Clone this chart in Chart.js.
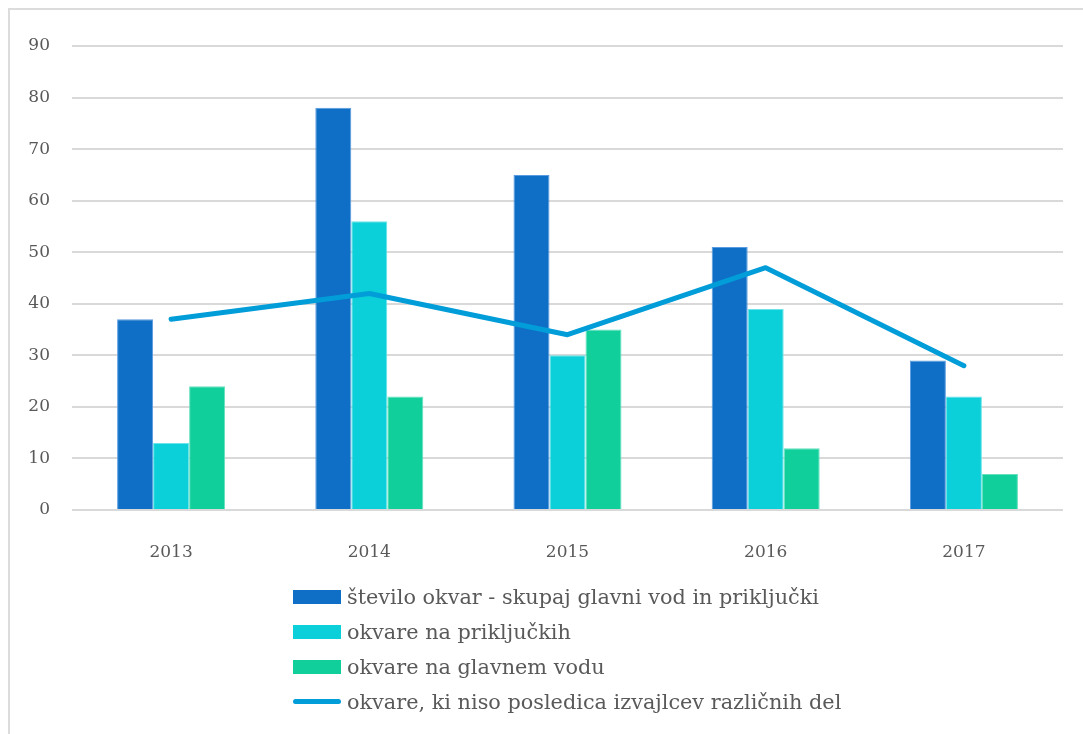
<!DOCTYPE html>
<html>
<head>
<meta charset="utf-8">
<script src="https://cdn.jsdelivr.net/npm/chart.js@4/dist/chart.umd.min.js"></script>
<style>
  html, body { margin: 0; padding: 0; background: #fff; }
  #wrap { position: relative; width: 1083px; height: 734px; overflow: hidden; }
  #frame { position: absolute; left: 8px; top: 8px; right: -10px; bottom: -10px; border-left: 2px solid #dcdcdc; border-top: 2px solid #dcdcdc; }
  #chart { position: absolute; left: 0; top: 0; }
  #legend { position: absolute; left: 293px; top: 579px; font-family: "DejaVu Serif", serif; font-size: 20.8px; color: #595959; }
  .item { height: 35px; display: flex; align-items: center; white-space: nowrap; }
  .sw { width: 48px; height: 14px; margin-right: 6px; }
  .ln { width: 48px; height: 5px; border-radius: 3px; margin-right: 6px; }
</style>
</head>
<body>
<div id="wrap">
  <div id="frame"></div>
  <canvas id="chart" width="1083" height="734"></canvas>
  <div id="legend"></div>
</div>
<script>
// podatki
var years = ['2013', '2014', '2015', '2016', '2017'];
var skupaj = [37, 78, 65, 51, 29];
var prikljucki = [13, 56, 30, 39, 22];
var glavniVod = [24, 22, 35, 12, 7];
var nisoIzvajalci = [37, 42, 34, 47, 28];
var yTicks = [0, 10, 20, 30, 40, 50, 60, 70, 80, 90];

var labelFont = { family: 'DejaVu Serif', size: 17 };

var ctx = document.getElementById('chart').getContext('2d');
var chart = new Chart(ctx, {
    type: 'bar',
    data: {
        labels: years,
        datasets: [{
            label: 'število okvar - skupaj glavni vod in priključki',
            data: skupaj,
            backgroundColor: '#0F6FC6',
            borderColor: '#5A9BE0',
            borderWidth: 1,
            order: 1
        }, {
            label: 'okvare na priključkih',
            data: prikljucki,
            backgroundColor: '#0BD0D9',
            borderColor: '#6BE3E8',
            borderWidth: 1,
            order: 1
        }, {
            label: 'okvare na glavnem vodu',
            data: glavniVod,
            backgroundColor: '#10CF9B',
            borderColor: '#66E0BE',
            borderWidth: 1,
            order: 1
        }, {
            type: 'line',
            label: 'okvare, ki niso posledica izvajlcev različnih del',
            data: nisoIzvajalci,
            borderColor: '#009DD9',
            borderWidth: 5,
            borderCapStyle: 'round',
            borderJoinStyle: 'round',
            pointRadius: 0,
            tension: 0,
            fill: false,
            order: 0
        }]
    },
    options: {
        responsive: false,
        animation: false,
        layout: { padding: { left: 0, right: 20, top: 46, bottom: 0 } },
        datasets: {
            bar: { categoryPercentage: 0.545, barPercentage: 1 }
        },
        scales: {
            x: {
                grid: { display: false },
                border: { display: false },
                ticks: { color: '#595959', font: labelFont, padding: 24 },
                afterFit: function(s) { s.height = 224; }
            },
            y: {
                min: 0,
                max: 90,
                afterBuildTicks: function(s) { s.ticks = yTicks.map(function(v) { return { value: v }; }); },
                grid: { color: '#d9d9d9', lineWidth: 2, drawTicks: false },
                border: { display: false },
                ticks: { color: '#595959', font: labelFont, padding: 22 },
                afterFit: function(s) { s.width = 72; }
            }
        },
        plugins: {
            legend: { display: false },
            tooltip: { enabled: false }
        }
    }
});

// legenda (navpična, kot v originalu)
var legend = document.getElementById('legend');
chart.data.datasets.forEach(function(ds) {
    var row = document.createElement('div');
    row.className = 'item';
    var sw = document.createElement('span');
    sw.className = ds.type === 'line' ? 'ln' : 'sw';
    sw.style.background = ds.type === 'line' ? ds.borderColor : ds.backgroundColor;
    var txt = document.createElement('span');
    txt.textContent = ds.label;
    row.appendChild(sw);
    row.appendChild(txt);
    legend.appendChild(row);
});
</script>
</body>
</html>
